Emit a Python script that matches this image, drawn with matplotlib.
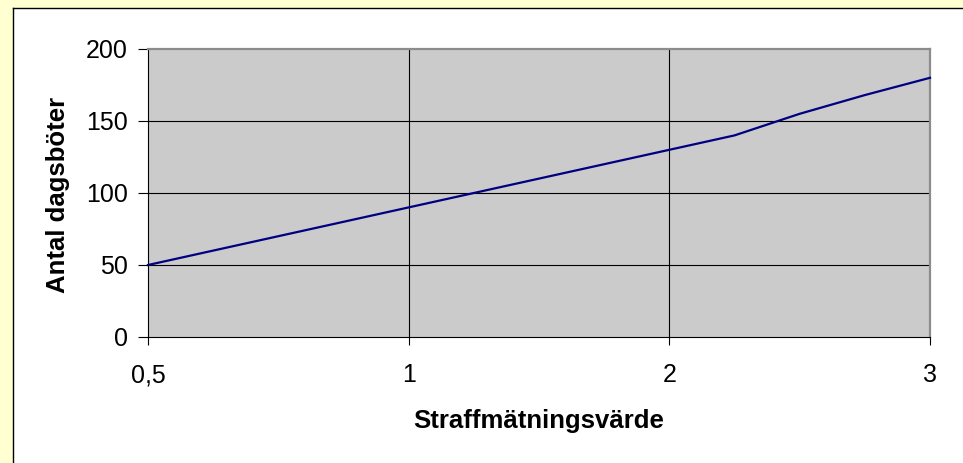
import matplotlib
matplotlib.use("Agg")
import matplotlib.pyplot as plt
from matplotlib.patches import Rectangle
from matplotlib.lines import Line2D

# Data
categories = ["0,5", "0,625", "0,75", "0,875", "1", "1,25", "1,5", "1,75",
              "2", "2,25", "2,5", "2,75", "3"]
values = [50, 60, 70, 80, 90, 100, 110, 120, 130, 140, 155, 168, 180]
shown_labels = ["0,5", "1", "2", "3"]
y_ticks = [0, 50, 100, 150, 200]
x_title = "Straffmätningsvärde"
y_title = "Antal dagsböter"

plt.rcParams['font.family'] = ['Liberation Sans', 'DejaVu Sans']

W, H = 963, 463
fig = plt.figure(figsize=(W / 100, H / 100), dpi=100)
fig.patch.set_facecolor("white")

def fx(px):
    return px / W

def fy(py):
    return 1 - py / H

# Yellow margins at top and left, black frame lines
fig.patches.append(Rectangle((0, fy(7.5)), 1, 1 - fy(7.5), transform=fig.transFigure,
                             facecolor="#FFFFD2", edgecolor="none", zorder=0))
fig.patches.append(Rectangle((0, 0), fx(12.5), 1, transform=fig.transFigure,
                             facecolor="#FFFFD2", edgecolor="none", zorder=0))
fig.lines.append(Line2D([fx(12.5), 1], [fy(7.5), fy(7.5)], transform=fig.transFigure,
                        color="black", lw=1.0))
fig.lines.append(Line2D([fx(12.5), fx(12.5)], [0, fy(7.5)], transform=fig.transFigure,
                        color="black", lw=1.0))

left, right, top, bottom = 148, 930, 49, 337
ax = fig.add_axes([fx(left), fy(bottom), fx(right - left), fy(top) - fy(bottom)])
ax.set_facecolor("#CBCBCB")

idx = list(range(len(categories)))
ax.plot(idx, values, color="#000080", lw=1.6, zorder=3, clip_on=False)

ax.set_xlim(0, len(categories) - 1)
ax.set_ylim(y_ticks[0], y_ticks[-1])

label_pos = [categories.index(l) for l in shown_labels]
ax.set_xticks(label_pos)
ax.set_xticklabels(shown_labels)
ax.set_yticks(y_ticks)
ax.set_yticklabels([str(v) for v in y_ticks])

for p in label_pos[1:-1]:
    ax.axvline(p, color="black", lw=0.8, zorder=1)
for v in y_ticks[1:-1]:
    ax.axhline(v, color="black", lw=0.8, zorder=1)

ax.tick_params(axis="x", direction="out", length=6, width=0.8, pad=13,
               labelsize=18, colors="black")
ax.tick_params(axis="y", direction="out", length=7.5, width=0.8, pad=7,
               labelsize=18, colors="black")

for s in ["left", "bottom"]:
    ax.spines[s].set_color("black")
    ax.spines[s].set_linewidth(0.8)
for s in ["top", "right"]:
    ax.spines[s].set_color("#8C8C8C")
    ax.spines[s].set_linewidth(1.6)

fig.text(fx(539), fy(421), x_title, ha="center", va="center",
         fontsize=18.5, fontweight="bold")
fig.text(fx(58), fy(195), y_title, ha="center", va="center", rotation=90,
         fontsize=18.5, fontweight="bold")

fig.savefig("out.png", dpi=100, facecolor=fig.get_facecolor())
